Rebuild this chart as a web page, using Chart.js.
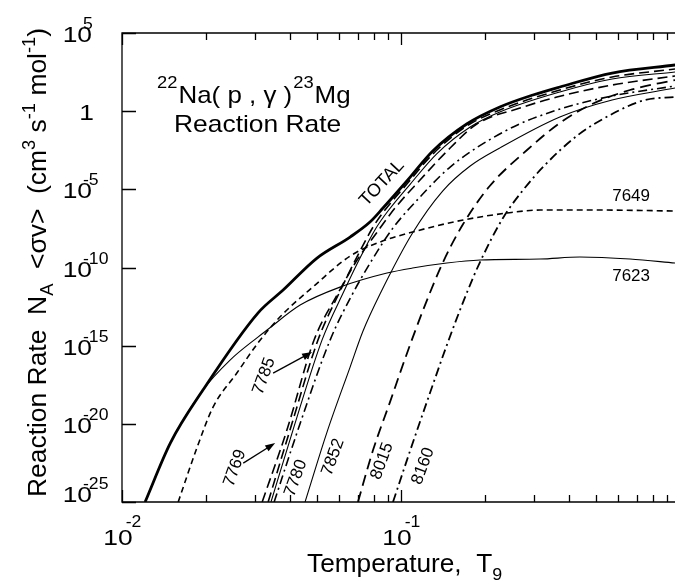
<!DOCTYPE html>
<html>
<head>
<meta charset="utf-8">
<title>22Na(p,γ)23Mg Reaction Rate</title>
<script src="https://cdn.jsdelivr.net/npm/chart.js@4.4.1/dist/chart.umd.min.js"></script>
<style>
  html, body { margin: 0; padding: 0; background: #fff; }
  #wrap { position: relative; width: 675px; height: 585px; }
</style>
</head>
<body>
<div id="wrap"><canvas id="rateChart"></canvas></div>
<script>
// temperatures (T9) and rates N_A<sv> (cm^3 s^-1 mol^-1)
const tTotal = [0.0121, 0.0149, 0.0195, 0.0307, 0.0378, 0.0500, 0.0657, 0.0774, 0.0862, 0.105, 0.130, 0.172, 0.226, 0.297, 0.371, 0.571, 0.960]
const rTotal = [1e-25, 5.87e-22, 1.44e-18, 1.22e-13, 3.61e-12, 4.02e-10, 8.88e-9, 8.09e-8, 6.36e-7, 3.40e-5, 2.82e-3, 0.151, 1.84, 10.8, 35.1, 276, 897]

const t7623 = [0.0121, 0.0149, 0.0195, 0.0244, 0.0307, 0.0331, 0.0435, 0.0605, 0.0891, 0.110, 0.146, 0.192, 0.315, 0.438, 0.662, 0.960]
const r7623 = [1e-25, 5.87e-22, 1.44e-18, 1.20e-16, 3.55e-15, 9.96e-15, 3.96e-13, 5.61e-12, 4.42e-11, 9.22e-11, 1.93e-10, 3.00e-10, 3.47e-10, 4.66e-10, 3.47e-10, 1.93e-10]

const t7649 = [0.0159, 0.0186, 0.0212, 0.0258, 0.0307, 0.0368, 0.0492, 0.0657, 0.0841, 0.110, 0.167, 0.240, 0.315, 0.517, 0.960]
const r7649 = [1e-25, 3.25e-22, 1.18e-19, 1.77e-17, 1.47e-15, 6.76e-14, 7.54e-12, 5.40e-10, 4.25e-9, 1.85e-8, 1.09e-7, 3.05e-7, 4.74e-7, 4.74e-7, 4.09e-7]

const t7769 = [0.0318, 0.0390, 0.0488, 0.0590, 0.0696, 0.0807, 0.0952, 0.117, 0.150, 0.187, 0.267, 0.362, 0.571, 0.960]
const r7769 = [1e-25, 3.98e-21, 2.28e-15, 1.73e-12, 3.00e-10, 1.19e-8, 6.36e-7, 3.94e-5, 4.39e-3, 0.151, 1.59, 8.04, 47.1, 177]

const t7785 = [0.0334, 0.0400, 0.0504, 0.0605, 0.0707, 0.0794, 0.0876, 0.105, 0.130, 0.172, 0.226, 0.371, 0.571, 0.960]
const r7785 = [1e-25, 3.98e-21, 2.28e-15, 3.11e-12, 8.40e-10, 3.87e-8, 4.74e-7, 2.18e-5, 1.81e-3, 0.112, 1.18, 22.6, 153, 497]

// thin solid line inside the 7769/7780/7785 bundle
const tBundle = [0.0342, 0.0410, 0.0521, 0.0625, 0.0725, 0.0814, 0.0898, 0.108, 0.134, 0.177, 0.226, 0.371, 0.571, 0.960]
const rBundle = [1e-25, 3.98e-21, 2.28e-15, 3.11e-12, 7.25e-10, 3.34e-8, 4.09e-7, 2.18e-5, 1.81e-3, 0.0968, 0.882, 16.8, 114, 320]

const t7780 = [0.0351, 0.0427, 0.0557, 0.0667, 0.0787, 0.0936, 0.117, 0.150, 0.240, 0.362, 0.571, 0.960]
const r7780 = [1e-25, 3.98e-21, 2.28e-15, 1.73e-12, 3.00e-10, 3.34e-8, 3.22e-6, 2.67e-4, 0.0622, 1.18, 9.32, 40.6]

const t7852 = [0.0453, 0.0543, 0.0657, 0.0731, 0.0841, 0.110, 0.141, 0.177, 0.226, 0.371, 0.571, 0.960]
const r7852 = [1e-25, 2.96e-21, 4.27e-17, 8.59e-15, 2.00e-12, 1.60e-8, 7.78e-6, 3.09e-4, 4.39e-3, 0.422, 5.17, 30.3]

const t8015 = [0.0701, 0.0794, 0.0913, 0.103, 0.120, 0.141, 0.167, 0.208, 0.283, 0.371, 0.476, 0.662, 0.960]
const r8015 = [1e-25, 2.09e-22, 2.46e-19, 1.20e-16, 1.90e-13, 1.93e-10, 6.02e-8, 1.63e-5, 3.27e-3, 0.1745, 2.47, 22.6, 98.4]

const t8160 = [0.0936, 0.108, 0.127, 0.146, 0.172, 0.192, 0.232, 0.274, 0.328, 0.431, 0.571, 0.749, 0.960]
const r8160 = [1e-25, 2.09e-22, 9.28e-19, 1.09e-15, 2.32e-12, 2.23e-10, 1.46e-7, 9.02e-6, 3.59e-4, 0.0298, 0.657, 5.17, 8.04]

// axes
const xMajorTicks = [0.01, 0.1]
const xMajorLabels = [['10', '-2'], ['10', '-1']]
const xMinorTicks = [0.02, 0.03, 0.04, 0.05, 0.06, 0.07, 0.08, 0.09, 0.2, 0.3, 0.4, 0.5, 0.6, 0.7, 0.8, 0.9]
const yTicks = [1e5, 1, 1e-5, 1e-10, 1e-15, 1e-20, 1e-25]
const yTickLabels = [['10', '5'], ['1', ''], ['10', '-5'], ['10', '-10'], ['10', '-15'], ['10', '-20'], ['10', '-25']]

const FONT = '"Liberation Sans", Arial, Helvetica, sans-serif'

const pts = (t, r) => t.map((x, i) => ({ x: x, y: r[i] }))

const curves = [
  { label: 'TOTAL', t: tTotal, r: rTotal, width: 2.8, dash: [] },
  { label: '7623', t: t7623, r: r7623, width: 1.1, dash: [] },
  { label: '7649', t: t7649, r: r7649, width: 1.6, dash: [6, 4] },
  { label: '7769', t: t7769, r: r7769, width: 1.6, dash: [10, 5] },
  { label: '7785', t: t7785, r: r7785, width: 1.6, dash: [10, 5] },
  { label: 'bundle', t: tBundle, r: rBundle, width: 1.1, dash: [] },
  { label: '7780', t: t7780, r: r7780, width: 1.6, dash: [9, 4, 2, 4] },
  { label: '7852', t: t7852, r: r7852, width: 1.1, dash: [] },
  { label: '8015', t: t8015, r: r8015, width: 1.8, dash: [11, 6] },
  { label: '8160', t: t8160, r: r8160, width: 1.8, dash: [9, 4, 2, 4] }
]

// labels and arrows, placed in data coordinates
const notes = {
  labels: [
    { text: 'TOTAL', at: [0.0855, 2.53e-5], angle: -47, size: 18 },
    { text: '7649', at: [0.668, 3.72e-6], angle: 0, size: 17 },
    { text: '7623', at: [0.668, 2.84e-11], angle: 0, size: 17 },
    { text: '7785', at: [0.0323, 1.14e-17], angle: -70, size: 17 },
    { text: '7769', at: [0.0254, 1.48e-23], angle: -70, size: 17 },
    { text: '7780', at: [0.0420, 3.38e-24], angle: -70, size: 17 },
    { text: '7852', at: [0.0571, 7.46e-23], angle: -70, size: 17 },
    { text: '8015', at: [0.0855, 4.14e-23], angle: -70, size: 17 },
    { text: '8160', at: [0.120, 1.98e-23], angle: -70, size: 17 }
  ],
  arrows: [
    { from: [0.0348, 1.77e-17], to: [0.0480, 3.89e-16] },
    { from: [0.0272, 3.08e-23], to: [0.0354, 5.87e-22] }
  ]
}

// draw text pieces one after another, with horizontal stretch sx
function rich(ctx, parts, x, y, sx) {
  ctx.save()
  ctx.translate(x, y)
  ctx.scale(sx, 1)
  ctx.textAlign = 'left'
  ctx.textBaseline = 'alphabetic'
  let cx = 0
  for (const [text, size, dy] of parts) {
    ctx.font = size + 'px ' + FONT
    ctx.fillText(text, cx, dy)
    cx += ctx.measureText(text).width
  }
  ctx.restore()
}

function textWidth(ctx, text, size) {
  ctx.font = size + 'px ' + FONT
  return ctx.measureText(text).width
}

const whiteBg = {
  id: 'whiteBg',
  beforeDraw(chart) {
    const ctx = chart.ctx
    ctx.save()
    ctx.fillStyle = '#fff'
    ctx.fillRect(0, 0, chart.width, chart.height)
    ctx.restore()
  }
}

const frame = {
  id: 'frame',
  afterDatasetsDraw(chart) {
    const { ctx, chartArea: a, scales: { x, y } } = chart
    ctx.save()
    ctx.strokeStyle = '#000'
    ctx.fillStyle = '#000'
    ctx.lineWidth = 1.3

    // box: left, top, bottom (right side is cut off)
    ctx.beginPath()
    ctx.moveTo(a.right + 2, a.top)
    ctx.lineTo(a.left, a.top)
    ctx.lineTo(a.left, a.bottom)
    ctx.lineTo(a.right + 2, a.bottom)
    ctx.stroke()

    // x ticks, inward on top and bottom
    ctx.beginPath()
    xMajorTicks.concat(xMinorTicks).forEach(v => {
      const px = Math.round(x.getPixelForValue(v)) + 0.5
      const len = xMajorTicks.includes(v) ? 12 : 7
      ctx.moveTo(px, a.bottom)
      ctx.lineTo(px, a.bottom - len)
      ctx.moveTo(px, a.top)
      ctx.lineTo(px, a.top + len)
    })
    // y ticks, inward on the left
    yTicks.forEach(v => {
      const py = Math.round(y.getPixelForValue(v)) + 0.5
      ctx.moveTo(a.left, py)
      ctx.lineTo(a.left + 14, py)
    })
    ctx.stroke()

    // y tick labels
    yTicks.forEach((v, i) => {
      const py = y.getPixelForValue(v)
      const [base, exp] = yTickLabels[i]
      const shift = i === yTicks.length - 1 ? -9 : 0
      const right = exp ? a.left - 30 : a.left - 28
      const w = textWidth(ctx, base, 22) * 1.2
      rich(ctx, [[base, 22, 0]], right - w, py + 9 + shift, 1.2)
      if (exp) rich(ctx, [[exp, 16, 0]], right - 9, py - 4 + shift, 1.1)
    })

    // x tick labels
    xMajorTicks.forEach((v, i) => {
      const px = x.getPixelForValue(v)
      const [base, exp] = xMajorLabels[i]
      const w = textWidth(ctx, base, 22) * 1.2
      const left = px - 4 - w / 2
      rich(ctx, [[base, 22, 0]], left, a.bottom + 43, 1.2)
      rich(ctx, [[exp, 16, 0]], left + w - 7, a.bottom + 25, 1.1)
    })

    // axis titles
    rich(ctx, [['Temperature,  T', 25, 0], ['9', 17, 8]], 307, 572, 1.05)

    const yParts = [['Reaction Rate  N', 26, 0], ['A', 18, 7], ['  <σv>  (cm', 26, 0], ['3', 18, -11],
      [' s', 26, 0], ['-1', 18, -11], [' mol', 26, 0], ['-1', 18, -11], [')', 26, 0]]
    let total = 0
    yParts.forEach(p => { total += textWidth(ctx, p[0], p[1]) })
    ctx.save()
    ctx.translate(46, 497)
    ctx.rotate(-Math.PI / 2)
    rich(ctx, yParts, 0, 0, 469 / total)
    ctx.restore()

    // in-plot title
    let tx = 157
    const title = [['22', 17, -15], ['Na( p , γ )', 24, 0], ['23', 17, -15], ['Mg', 24, 0]]
    title.forEach(([text, size, dy]) => {
      rich(ctx, [[text, size, 0]], tx, a.top + 70 + dy, 1.08)
      tx += textWidth(ctx, text, size) * 1.08 + 1
    })
    rich(ctx, [['Reaction Rate', 24, 0]], 174, a.top + 99, 1.1)

    // curve labels
    notes.labels.forEach(l => {
      const px = x.getPixelForValue(l.at[0])
      const py = y.getPixelForValue(l.at[1])
      ctx.save()
      ctx.translate(px, py)
      ctx.rotate(l.angle * Math.PI / 180)
      ctx.font = l.size + 'px ' + FONT
      ctx.textAlign = 'center'
      ctx.textBaseline = 'middle'
      ctx.fillText(l.text, 0, 0)
      ctx.restore()
    })

    // arrows
    ctx.lineWidth = 1.3
    notes.arrows.forEach(ar => {
      const x1 = x.getPixelForValue(ar.from[0]), y1 = y.getPixelForValue(ar.from[1])
      const x2 = x.getPixelForValue(ar.to[0]), y2 = y.getPixelForValue(ar.to[1])
      const ang = Math.atan2(y2 - y1, x2 - x1)
      ctx.beginPath()
      ctx.moveTo(x1, y1)
      ctx.lineTo(x2 - 6 * Math.cos(ang), y2 - 6 * Math.sin(ang))
      ctx.stroke()
      ctx.beginPath()
      ctx.moveTo(x2, y2)
      ctx.lineTo(x2 - 10 * Math.cos(ang) + 3.5 * Math.sin(ang), y2 - 10 * Math.sin(ang) - 3.5 * Math.cos(ang))
      ctx.lineTo(x2 - 10 * Math.cos(ang) - 3.5 * Math.sin(ang), y2 - 10 * Math.sin(ang) + 3.5 * Math.cos(ang))
      ctx.closePath()
      ctx.fill()
    })
    ctx.restore()
  }
}

const ctx = document.getElementById('rateChart')
// eslint-disable-next-line no-unused-vars
const rateChart = new Chart(ctx, {
  type: 'scatter',
  data: {
    datasets: curves.map(c => ({
      label: c.label,
      data: pts(c.t, c.r),
      showLine: true,
      borderColor: '#000',
      backgroundColor: '#000',
      borderWidth: c.width,
      borderDash: c.dash,
      pointRadius: 0,
      fill: false,
      cubicInterpolationMode: 'monotone'
    }))
  },
  options: {
    responsive: true,
    maintainAspectRatio: false,
    animation: false,
    events: [],
    layout: { padding: { left: 122, top: 33, right: 0, bottom: 83 } },
    scales: {
      x: { type: 'logarithmic', min: 0.01, max: 0.9596, display: false },
      y: { type: 'logarithmic', min: 1e-25, max: 1e5, display: false }
    },
    plugins: {
      legend: { display: false },
      tooltip: { enabled: false }
    }
  },
  plugins: [whiteBg, frame]
})
</script>
</body>
</html>
